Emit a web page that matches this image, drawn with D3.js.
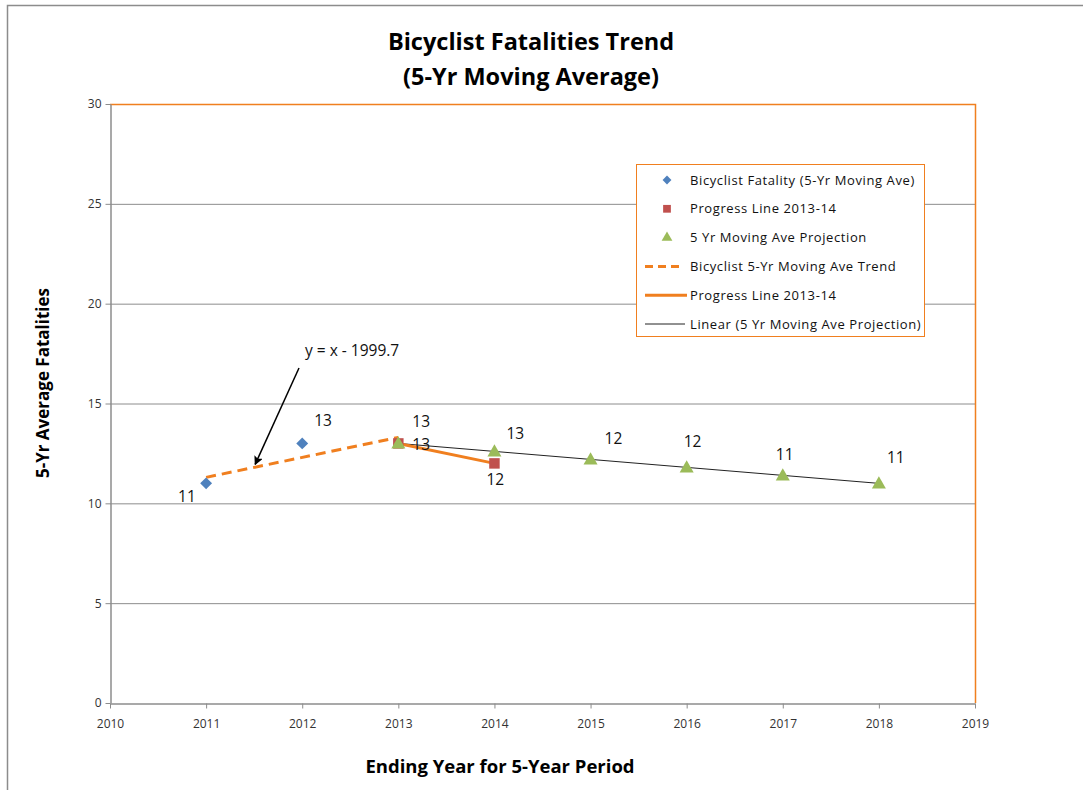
<!DOCTYPE html>
<html><head><meta charset="utf-8">
<script src="https://cdn.jsdelivr.net/npm/d3@7"></script>
<style>body{margin:0;background:#fff}svg{display:block}text{font-family:"Open Sans","Liberation Sans",sans-serif}</style>
</head><body><svg id="c" width="1083" height="790"></svg>
<script>
const fatalityYears = [2011, 2012];
const fatalityValues = [11.0, 13.0];
const fatalityLabels = ["11", "13"];
const progressYears = [2013, 2014];
const progressValues = [13.0, 12.0];
const progressLabels = ["13", "12"];
const projectionYears = [2013, 2014, 2015, 2016, 2017, 2018];
const projectionValues = [13.0, 12.6, 12.2, 11.8, 11.4, 11.0];
const projectionLabels = ["13", "13", "12", "12", "11", "11"];
const trendYears = [2011, 2013];
const trendSlope = 1, trendIntercept = -1999.7;
const xTicks = [2010, 2011, 2012, 2013, 2014, 2015, 2016, 2017, 2018, 2019];
const yTicks = [0, 5, 10, 15, 20, 25, 30];
const legendLabels = ["Bicyclist Fatality (5-Yr Moving Ave)", "Progress Line 2013-14", "5 Yr Moving Ave Projection", "Bicyclist 5-Yr Moving Ave Trend", "Progress Line 2013-14", "Linear (5 Yr Moving Ave Projection)"];

const svg = d3.select("#c");
const L = 110, R = 975, T = 104, B = 703;
const x = d3.scaleLinear().domain([2010, 2019]).range([L, R]);
const y = d3.scaleLinear().domain([0, 30]).range([B, T]);
const blue = "#4f81bd", red = "#c0504d", green = "#9bbb59", orange = "#f07f1f";

// outer border
svg.append("rect").attr("x", 7.5).attr("y", 5.5).attr("width", 1090).attr("height", 800).attr("fill", "none").attr("stroke", "#8c8c8c").attr("stroke-width", 1.5);

// gridlines
svg.append("g").selectAll("line").data(yTicks.filter(d => d > 0 && d < 30)).join("line")
  .attr("x1", L).attr("x2", R).attr("y1", d => y(d) + 0.5).attr("y2", d => y(d) + 0.5)
  .attr("stroke", "#8c8c8c").attr("stroke-width", 1);
// plot border (top and right orange)
svg.append("path").attr("d", `M${L},${y(30)+0.5}H${R+0.5}V${B}`).attr("fill", "none").attr("stroke", orange).attr("stroke-width", 1.5);

// axes
const xAxis = d3.axisBottom(x).tickValues(xTicks).tickFormat(d3.format("d")).tickSize(5).tickSizeOuter(0);
const gx = svg.append("g").attr("transform", `translate(0,${B + 0.5})`).call(xAxis);
gx.select(".domain").attr("stroke", "#8c8c8c").attr("stroke-width", 1.5);
gx.selectAll(".tick line").attr("stroke", "#8c8c8c");
gx.selectAll("text").attr("font-size", 12).attr("fill", "#333").attr("dy", "1.35em");
const yAxis = d3.axisLeft(y).tickValues(yTicks).tickSize(5).tickSizeOuter(0);
const gy = svg.append("g").attr("transform", `translate(${L + 0.5},0)`).call(yAxis);
gy.select(".domain").attr("stroke", "#8c8c8c").attr("stroke-width", 1.5);
gy.selectAll(".tick line").attr("stroke", "#8c8c8c");
gy.selectAll("text").attr("font-size", 12).attr("fill", "#333").attr("x", -9);

// titles
svg.append("text").attr("x", 531).attr("y", 50).attr("text-anchor", "middle").attr("font-size", 23.5).attr("font-weight", "bold").text("Bicyclist Fatalities Trend");
svg.append("text").attr("x", 531).attr("y", 85).attr("text-anchor", "middle").attr("font-size", 23.5).attr("font-weight", "bold").text("(5-Yr  Moving Average)");
svg.append("text").attr("x", 500).attr("y", 773).attr("text-anchor", "middle").attr("font-size", 18.5).attr("font-weight", "bold").text("Ending Year for 5-Year Period");
svg.append("text").attr("transform", "translate(49,383) rotate(-90)").attr("text-anchor", "middle").attr("font-size", 17).attr("font-weight", "bold").text("5-Yr Average Fatalities");

// lines
const line = d3.line().x(d => x(d[0])).y(d => y(d[1]));
svg.append("path").datum(trendYears.map(t => [t, trendSlope * t + trendIntercept]))
  .attr("d", line).attr("fill", "none").attr("stroke", orange).attr("stroke-width", 3).attr("stroke-dasharray", "10,6");
// linear fit of projection
const n = projectionYears.length;
const mx = d3.mean(projectionYears), my = d3.mean(projectionValues);
const slope = d3.sum(projectionYears, (t, i) => (t - mx) * (projectionValues[i] - my)) / d3.sum(projectionYears, t => (t - mx) ** 2);
const icpt = my - slope * mx;
svg.append("path").datum([projectionYears[0], projectionYears[n - 1]].map(t => [t, slope * t + icpt]))
  .attr("d", line).attr("fill", "none").attr("stroke", "#222").attr("stroke-width", 1);
svg.append("path").datum(progressYears.map((t, i) => [t, progressValues[i]]))
  .attr("d", line).attr("fill", "none").attr("stroke", orange).attr("stroke-width", 3);

// markers
const diamond = d3.symbol().type(d3.symbolDiamond2).size(90);
const square = d3.symbol().type(d3.symbolSquare).size(110);
const tri = d3.symbol().type(d3.symbolTriangle).size(85);
svg.append("g").selectAll("path").data(progressYears).join("path")
  .attr("transform", (d, i) => `translate(${x(d)},${y(progressValues[i])})`).attr("d", square).attr("fill", red);
svg.append("g").selectAll("path").data(projectionYears).join("path")
  .attr("transform", (d, i) => `translate(${x(d)},${y(projectionValues[i]) + 1})`).attr("d", tri).attr("fill", green);
svg.append("g").selectAll("path").data(fatalityYears).join("path")
  .attr("transform", (d, i) => `translate(${x(d)},${y(fatalityValues[i])})`).attr("d", diamond).attr("fill", blue);

// data labels
const lab = (px, py, t) => svg.append("text").attr("x", px).attr("y", py).attr("font-size", 15.5).attr("fill", "#111").attr("font-family", "Liberation Sans, sans-serif").text(t);
const fOff = [[-28, 19], [12, -17]];
fatalityYears.forEach((t, i) => lab(x(t) + fOff[i][0], y(fatalityValues[i]) + fOff[i][1], fatalityLabels[i]));
const pOff = [[14, -16], [-8, 22]];
progressYears.forEach((t, i) => lab(x(t) + pOff[i][0], y(progressValues[i]) + pOff[i][1], progressLabels[i]));
const gOff = [[14, 7], [12, -12], [14, -15], [-3, -20], [-7, -15], [8, -20]];
projectionYears.forEach((t, i) => lab(x(t) + gOff[i][0], y(projectionValues[i]) + gOff[i][1], projectionLabels[i]));

// annotation
svg.append("text").attr("x", 305).attr("y", 356).attr("font-size", 15.5).attr("fill", "#111").attr("font-family", "Liberation Sans, sans-serif").text("y = x - 1999.7");
svg.append("defs").append("marker").attr("id", "ah").attr("viewBox", "0 0 10 10").attr("refX", 9).attr("refY", 5)
  .attr("markerWidth", 9).attr("markerHeight", 9).attr("orient", "auto").attr("markerUnits", "userSpaceOnUse")
  .append("path").attr("d", "M0,0L10,5L0,10L2,5Z").attr("fill", "#000");
const ax = x(2011.5), ay = y(2011.5 * trendSlope + trendIntercept);
svg.append("line").attr("x1", 299).attr("y1", 368).attr("x2", ax + 1).attr("y2", ay - 3).attr("stroke", "#000").attr("stroke-width", 1.5).attr("marker-end", "url(#ah)");

// legend
const lg = svg.append("g");
lg.append("rect").attr("x", 636.5).attr("y", 164.5).attr("width", 288).attr("height", 172).attr("fill", "#fff").attr("stroke", orange).attr("stroke-width", 1);
const ly = i => 180 + i * 28.8;
legendLabels.forEach((t, i) => lg.append("text").attr("x", 690).attr("y", ly(i) + 4.5).attr("font-size", 13).attr("letter-spacing", 0.6).attr("fill", "#111").text(t));
lg.append("path").attr("transform", `translate(667,${ly(0)})`).attr("d", d3.symbol().type(d3.symbolDiamond2).size(50)).attr("fill", blue);
lg.append("path").attr("transform", `translate(667,${ly(1)})`).attr("d", d3.symbol().type(d3.symbolSquare).size(60)).attr("fill", red);
lg.append("path").attr("transform", `translate(667,${ly(2)})`).attr("d", d3.symbol().type(d3.symbolTriangle).size(50)).attr("fill", green);
lg.append("line").attr("x1", 645).attr("x2", 683).attr("y1", ly(3)).attr("y2", ly(3)).attr("stroke", orange).attr("stroke-width", 3).attr("stroke-dasharray", "8,5");
lg.append("line").attr("x1", 645).attr("x2", 687).attr("y1", ly(4)).attr("y2", ly(4)).attr("stroke", orange).attr("stroke-width", 3);
lg.append("line").attr("x1", 645).attr("x2", 685).attr("y1", ly(5)).attr("y2", ly(5)).attr("stroke", "#222").attr("stroke-width", 1);
</script></body></html>
